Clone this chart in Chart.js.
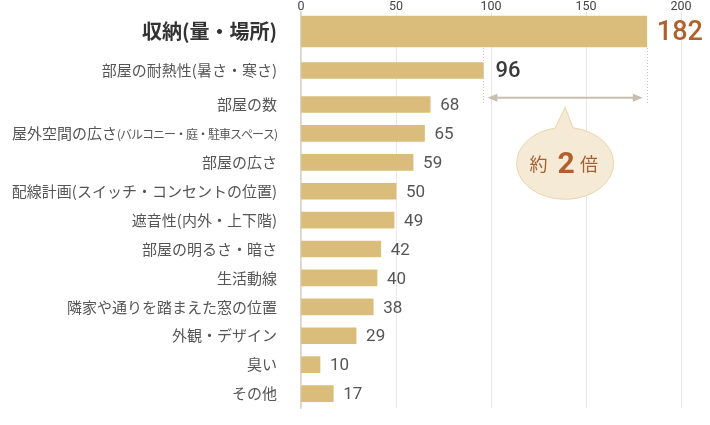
<!DOCTYPE html>
<html><head><meta charset="utf-8">
<script src="https://cdn.jsdelivr.net/npm/chart.js@4/dist/chart.umd.min.js"></script>
<style>html,body{margin:0;padding:0;background:#fff}canvas{display:block}</style>
</head><body>
<canvas id="c" width="710" height="425"></canvas>
<script>
// ---- data ----
const categories = ['収納(量・場所)','部屋の耐熱性(暑さ・寒さ)','部屋の数','屋外空間の広さ','部屋の広さ','配線計画(スイッチ・コンセントの位置)','遮音性(内外・上下階)','部屋の明るさ・暗さ','生活動線','隣家や通りを踏まえた窓の位置','外観・デザイン','臭い','その他'];
const categoryNotes = ['','','','(バルコニー・庭・駐車スペース)','','','','','','','','',''];
const values = [182,96,68,65,59,50,49,42,40,38,29,10,17];
const xTicks = [0,50,100,150,200];
const calloutText = ['約','2','倍'];

// ---- styles ----
const JP = "'Noto Sans CJK JP', sans-serif";
const NUM = "Roboto, 'Liberation Sans', sans-serif";
const BAR = '#dbbd7b';
const TOP_N = 2;
const topCats = categories.slice(0, TOP_N);
const restCats = categories.slice(TOP_N);
const LABEL_PAD = 24;

function labelPixelY(chart, i) {
  return i < TOP_N ? chart.scales.yTop.getPixelForValue(i) : chart.scales.yRest.getPixelForValue(i - TOP_N);
}

const decor = {
  id: 'decor',
  afterDraw(chart) {
    const ctx = chart.ctx;
    const xs = chart.scales.x;
    const m0 = chart.getDatasetMeta(0).data[0];
    const m1 = chart.getDatasetMeta(1).data[1];
    const rest = chart.getDatasetMeta(2).data;
    const bars = [m0, m1, ...rest];
    ctx.save();
    // value labels
    bars.forEach((b, i) => {
      ctx.textAlign = 'left';
      ctx.textBaseline = 'middle';
      if (i === 0) { ctx.font = '500 27px ' + NUM; ctx.fillStyle = '#b0602c'; ctx.fillText(String(values[i]), b.x + 10, b.y + 2); }
      else if (i === 1) { ctx.font = '500 22px ' + NUM; ctx.fillStyle = '#3a3a3a'; ctx.fillText(String(values[i]), b.x + 12, b.y + 1); }
      else { ctx.font = '400 17px ' + NUM; ctx.fillStyle = '#555'; ctx.fillText(String(values[i]), b.x + 10, b.y + 1.5); }
    });
    // labels with notes
    const rightX = chart.scales.yRest.right - LABEL_PAD;
    categoryNotes.forEach((note, i) => {
      if (!note) return;
      const y = labelPixelY(chart, i);
      ctx.textBaseline = 'middle';
      ctx.textAlign = 'right';
      ctx.fillStyle = '#555';
      ctx.font = '12px ' + JP;
      ctx.letterSpacing = '-1px';
      const w = ctx.measureText(note).width;
      ctx.fillText(note, rightX, y + 1);
      ctx.letterSpacing = '0px';
      ctx.font = '15px ' + JP;
      ctx.fillText(categories[i], rightX - w, y);
    });
    // dotted guides
    const xa = m1.x, xb = m0.x;
    const arrowY = m1.y + (rest[0].y - m1.y) * 0.8;
    const topY = m0.y + m0.height / 2 + 1;
    ctx.strokeStyle = '#c4c4c4';
    ctx.lineWidth = 1;
    ctx.setLineDash([1, 2]);
    [xa, xb].forEach(px => {
      ctx.beginPath(); ctx.moveTo(Math.round(px) + 0.5, topY); ctx.lineTo(Math.round(px) + 0.5, arrowY + 7); ctx.stroke();
    });
    ctx.setLineDash([]);
    // arrow
    const a1 = xa + 4, a2 = xb - 4;
    ctx.strokeStyle = '#c8beb2'; ctx.fillStyle = '#c8beb2'; ctx.lineWidth = 2;
    ctx.beginPath(); ctx.moveTo(a1 + 6, arrowY); ctx.lineTo(a2 - 6, arrowY); ctx.stroke();
    ctx.beginPath(); ctx.moveTo(a1, arrowY); ctx.lineTo(a1 + 10, arrowY - 4); ctx.lineTo(a1 + 10, arrowY + 4); ctx.closePath(); ctx.fill();
    ctx.beginPath(); ctx.moveTo(a2, arrowY); ctx.lineTo(a2 - 10, arrowY - 4); ctx.lineTo(a2 - 10, arrowY + 4); ctx.closePath(); ctx.fill();
    // bubble
    const cx = xs.getPixelForValue((values[0] + values[1]) / 2);
    const cy = rest[2].y + 1;
    const rx = 48.5, ry = 36;
    const tl = -Math.PI / 2 - Math.asin(10 / rx);
    const tr = -Math.PI / 2 + Math.asin(8 / rx);
    const ax = cx, ay = arrowY + 9.5;
    ctx.beginPath();
    ctx.moveTo(ax, ay);
    ctx.lineTo(cx + rx * Math.cos(tr), cy + ry * Math.sin(tr));
    ctx.ellipse(cx, cy, rx, ry, 0, tr, tl + 2 * Math.PI, false);
    ctx.closePath();
    ctx.fillStyle = '#f5ead5';
    ctx.fill();
    ctx.strokeStyle = '#e8d5ad'; ctx.lineWidth = 1;
    ctx.stroke();
    ctx.textAlign = 'center'; ctx.textBaseline = 'middle';
    ctx.fillStyle = '#a45f33';
    ctx.font = '18px ' + JP;
    ctx.fillText(calloutText[0], cx - 26.5, cy + 1);
    ctx.fillText(calloutText[2], cx + 24, cy + 1);
    ctx.fillStyle = '#b0602c';
    ctx.font = 'bold 30px ' + NUM;
    ctx.fillText(calloutText[1], cx + 1, cy + 2);
    ctx.restore();
  }
};

const yCommon = {
  type: 'category', position: 'left', stack: 'ys', offset: true,
  grid: { drawOnChartArea: false, drawTicks: false },
  border: { color: '#dcd3c8', width: 1.5 },
  afterFit: s => { s.width = 301; s.paddingTop = 0; s.paddingBottom = 0; }
};

new Chart(document.getElementById('c'), {
  type: 'bar',
  data: {
    datasets: [
      { data: [values[0], null], yAxisID: 'yTop', barThickness: 31, backgroundColor: BAR, grouped: false },
      { data: [null, values[1]], yAxisID: 'yTop', barThickness: 16, backgroundColor: BAR, grouped: false },
      { data: values.slice(TOP_N), yAxisID: 'yRest', barThickness: 16, backgroundColor: BAR, grouped: false }
    ]
  },
  options: {
    indexAxis: 'y',
    responsive: false,
    animation: false,
    devicePixelRatio: 1,
    layout: { padding: { top: 0, right: 29, bottom: 17, left: 0 } },
    plugins: { legend: { display: false }, tooltip: { enabled: false } },
    scales: {
      x: {
        position: 'top', min: 0, max: 200,
        afterBuildTicks: s => { s.ticks = xTicks.map(v => ({ value: v })); },
        grid: { color: '#e8e8e8', drawTicks: false },
        border: { display: false },
        ticks: { padding: -2, color: '#444', font: { family: NUM, size: 12.5 } },
        afterFit: s => { s.height = 12; }
      },
      yRest: Object.assign({}, yCommon, {
        labels: restCats, stackWeight: 11,
        ticks: {
          autoSkip: false,
          padding: LABEL_PAD, color: '#555',
          font: { family: JP, size: 15 },
          callback: (v, i) => categoryNotes[i + TOP_N] ? '' : restCats[i]
        }
      }),
      yTop: Object.assign({}, yCommon, {
        labels: topCats, stackWeight: 2.7,
        ticks: {
          autoSkip: false,
          padding: LABEL_PAD,
          color: c => c.index === 0 ? '#333' : '#555',
          font: c => c.index === 0 ? { family: JP, size: 20, weight: 'bold' } : { family: JP, size: 15 },
          callback: (v, i) => categoryNotes[i] ? '' : topCats[i]
        }
      })
    }
  },
  plugins: [decor]
});
</script>
</body></html>
